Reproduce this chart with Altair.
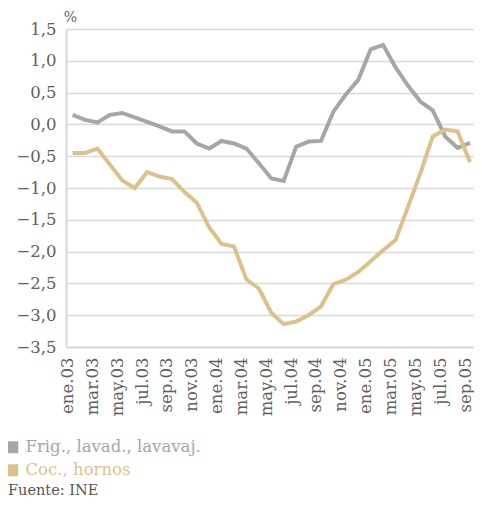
import altair as alt
import pandas as pd

months = [
    "ene.03", "feb.03", "mar.03", "abr.03", "may.03", "jun.03", "jul.03", "ago.03",
    "sep.03", "oct.03", "nov.03", "dic.03",
    "ene.04", "feb.04", "mar.04", "abr.04", "may.04", "jun.04", "jul.04", "ago.04",
    "sep.04", "oct.04", "nov.04", "dic.04",
    "ene.05", "feb.05", "mar.05", "abr.05", "may.05", "jun.05", "jul.05", "ago.05",
    "sep.05",
]
frig = [0.15, 0.07, 0.03, 0.15, 0.18, 0.11, 0.04, -0.03, -0.11, -0.11, -0.30, -0.38,
        -0.26, -0.30, -0.38, -0.61, -0.85, -0.89, -0.35, -0.27, -0.26, 0.20, 0.47, 0.70,
        1.18, 1.25, 0.90, 0.61, 0.36, 0.22, -0.19, -0.37, -0.29]
coc = [-0.45, -0.45, -0.38, -0.63, -0.88, -1.00, -0.75, -0.82, -0.86, -1.06, -1.23, -1.62,
       -1.88, -1.92, -2.44, -2.58, -2.96, -3.14, -3.10, -3.00, -2.86, -2.51, -2.44, -2.32,
       -2.15, -1.98, -1.82, -1.30, -0.77, -0.19, -0.08, -0.11, -0.59]
series_names = ["Frig., lavad., lavavaj.", "Coc., hornos"]
series_colors = ["#a6a6a6", "#dcc28a"]
tick_labels = months[::2]
y_ticks = [-3.5, -3.0, -2.5, -2.0, -1.5, -1.0, -0.5, 0.0, 0.5, 1.0, 1.5]
source_text = ["Fuente: INE"]

FONT = "DejaVu Serif"
GRID = "#d9d9d9"
LABEL = "#606060"

df_frig = pd.DataFrame({"mes": months, "valor": frig, "serie": series_names[0]})
df_coc = pd.DataFrame({"mes": months, "valor": coc, "serie": series_names[1]})
df_src = pd.DataFrame({"texto": source_text})

x_enc = alt.X(
    "mes:O", sort=months, title=None,
    scale=alt.Scale(type="point", padding=0.427, align=0.623),
    axis=alt.Axis(values=tick_labels, labelAngle=-90, labelFont=FONT, labelFontSize=16.5,
                  labelColor=LABEL, labelPadding=10, labelOffset=-5, ticks=False, grid=False,
                  domainColor=GRID, domainWidth=2, labelOverlap=False),
)
y_enc = alt.Y(
    "valor:Q",
    scale=alt.Scale(domain=[-3.5, 1.5], nice=False, zero=False),
    axis=alt.Axis(values=y_ticks, labelExpr="replace(format(datum.value, '.1f'), '.', ',')",
                  labelFont=FONT, labelFontSize=16.5, labelColor=LABEL, labelPadding=10,
                  ticks=False, grid=True, gridColor=GRID, gridWidth=1.5,
                  domainColor=GRID, domainWidth=2,
                  title="%", titleAngle=0, titleFont=FONT, titleFontSize=14,
                  titleFontWeight="normal", titleColor=LABEL,
                  titleAlign="center", titleBaseline="alphabetic", titleX=4, titleY=-8),
)


def legend_for(i, y):
    return alt.Legend(
        orient="none", legendX=-62, legendY=y, title=None, padding=0,
        symbolType="square", symbolSize=144, symbolFillColor=series_colors[i],
        symbolStrokeColor=series_colors[i], symbolStrokeWidth=0, symbolOpacity=1,
        labelFont=FONT, labelFontSize=16.5, labelColor=series_colors[i], labelOffset=5,
        labelLimit=400,
    )


line_frig = alt.Chart(df_frig).mark_line(strokeWidth=4, strokeJoin="miter").encode(
    x=x_enc, y=y_enc,
    color=alt.Color("serie:N", scale=alt.Scale(domain=[series_names[0]], range=[series_colors[0]]),
                    legend=legend_for(0, 410)),
)
line_coc = alt.Chart(df_coc).mark_line(strokeWidth=4, strokeJoin="miter").encode(
    x=x_enc, y=y_enc,
    color=alt.Color("serie:N", scale=alt.Scale(domain=[series_names[1]], range=[series_colors[1]]),
                    legend=legend_for(1, 433)),
)
src = alt.Chart(df_src).mark_text(font=FONT, fontSize=14.5, color="#555555", align="left",
                                  baseline="alphabetic").encode(
    text="texto:N", x=alt.value(-58), y=alt.value(466),
)

chart = alt.layer(line_frig, line_coc, src).resolve_scale(color="independent").properties(
    width=408, height=318,
    autosize=alt.AutoSizeParams(type="none"),
    padding={"left": 58, "top": 21, "right": 0, "bottom": 152},
).configure_view(stroke=None)

chart.save("out.html", embed_options={"renderer": "svg", "actions": False})
